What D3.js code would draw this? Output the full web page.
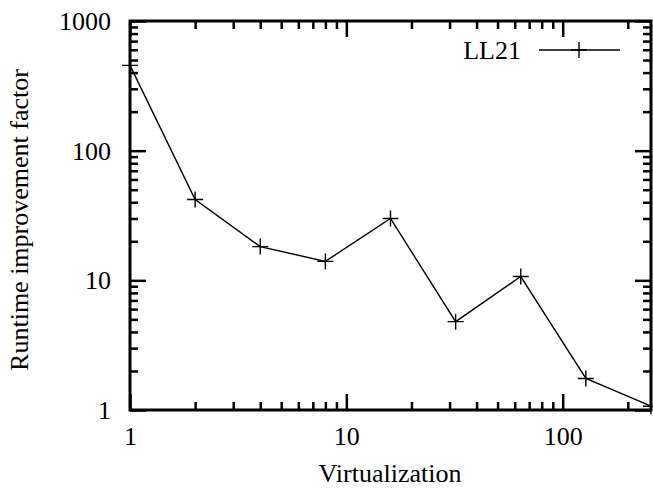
<!DOCTYPE html>
<html>
<head>
<meta charset="utf-8">
<script src="https://cdn.jsdelivr.net/npm/d3@7"></script>
<style>
  body { margin: 0; background: #fff; }
  svg text { font-family: "Liberation Serif", "Times New Roman", serif; font-size: 26px; fill: #000; }
</style>
</head>
<body>
<svg id="chart" width="653" height="488"></svg>
<script>
// data
const virt = [1, 2, 4, 8, 16, 32, 64, 128, 256];
const ll21 = [455, 42, 18.2, 14, 30, 4.8, 10.7, 1.75, 1.07];
const seriesName = "LL21";
const xMajor = [1, 10, 100];
const yMajor = [1, 10, 100, 1000];
const xMinor = [2, 3, 4, 5, 6, 7, 8, 9, 20, 30, 40, 50, 60, 70, 80, 90, 200];
const yMinor = [2, 3, 4, 5, 6, 7, 8, 9, 20, 30, 40, 50, 60, 70, 80, 90, 200, 300, 400, 500, 600, 700, 800, 900];

const pLeft = 130, pRight = 651, pTop = 21, pBottom = 410;
const svg = d3.select("#chart");

const x = d3.scaleLog().domain([1, 256]).range([pLeft, pRight]);
const y = d3.scaleLog().domain([1, 1000]).range([pBottom, pTop]);

// ticks, mirrored on all four sides
function ticks(axisFn, scale, values, size, tx, ty, labels) {
  let a = axisFn(scale).tickValues(values).tickSize(-size);
  if (!labels) a.tickFormat("");
  else a.tickFormat(d3.format("d"));
  let g = svg.append("g").attr("transform", "translate(" + tx + "," + ty + ")").call(a);
  g.select(".domain").remove();
  g.selectAll(".tick line").attr("stroke", "#000").attr("stroke-width", 2.5);
  return g;
}

let gx = ticks(d3.axisBottom, x, xMajor, 16, 0, pBottom, true);
gx.selectAll("text").attr("y", 35).attr("dy", null);
ticks(d3.axisBottom, x, xMinor, 8, 0, pBottom, false);
ticks(d3.axisTop, x, xMajor, 16, 0, pTop, false);
ticks(d3.axisTop, x, xMinor, 8, 0, pTop, false);

let gy = ticks(d3.axisLeft, y, yMajor, 16, pLeft, 0, true);
gy.selectAll("text").attr("x", -19).attr("dy", "0.33em");
ticks(d3.axisLeft, y, yMinor, 8, pLeft, 0, false);
ticks(d3.axisRight, y, yMajor, 16, pRight, 0, false);
ticks(d3.axisRight, y, yMinor, 8, pRight, 0, false);

svg.selectAll("g").attr("font-family", null).attr("font-size", null);
svg.selectAll(".tick text").attr("fill", "#000");

// frame
svg.append("rect")
  .attr("x", pLeft).attr("y", pTop)
  .attr("width", pRight - pLeft).attr("height", pBottom - pTop)
  .attr("fill", "none").attr("stroke", "#000").attr("stroke-width", 3);

// series
const pts = virt.map((v, i) => [v, ll21[i]]);
const line = d3.line().x(d => x(d[0])).y(d => y(d[1]));
svg.append("path").datum(pts)
  .attr("d", line)
  .attr("fill", "none").attr("stroke", "#000").attr("stroke-width", 1.4);

const plus = "M-8,0H8M0,-8V8";
svg.selectAll(".pt").data(pts).enter().append("path")
  .attr("class", "pt")
  .attr("d", plus)
  .attr("transform", d => "translate(" + x(d[0]) + "," + y(d[1]) + ")")
  .attr("stroke", "#000").attr("stroke-width", 1.4);

// legend
svg.append("text").attr("x", 521).attr("y", 59).attr("text-anchor", "end").text(seriesName);
svg.append("line").attr("x1", 539).attr("x2", 620).attr("y1", 50).attr("y2", 50)
  .attr("stroke", "#000").attr("stroke-width", 1.4);
svg.append("path").attr("d", plus).attr("transform", "translate(579,50)")
  .attr("stroke", "#000").attr("stroke-width", 1.4);

// axis titles
svg.append("text").attr("x", 390).attr("y", 482).attr("text-anchor", "middle").text("Virtualization");
svg.append("text")
  .attr("transform", "translate(28,220) rotate(-90)")
  .attr("text-anchor", "middle")
  .text("Runtime improvement factor");
</script>
</body>
</html>
